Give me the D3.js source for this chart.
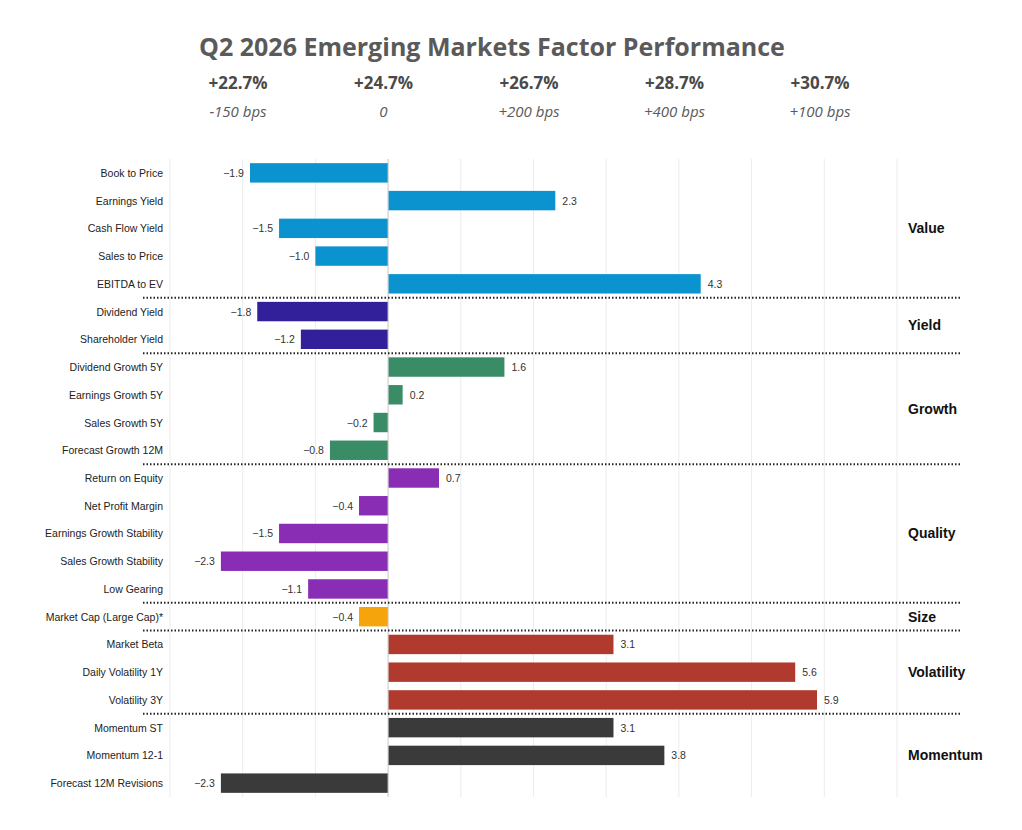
<!DOCTYPE html>
<html><head><meta charset="utf-8">
<script src="https://cdn.jsdelivr.net/npm/d3@7"></script>
<style>body{margin:0;background:#fff}</style>
</head><body><div id="chart"></div>
<script>
var factors = ["Book to Price","Earnings Yield","Cash Flow Yield","Sales to Price","EBITDA to EV",
  "Dividend Yield","Shareholder Yield",
  "Dividend Growth 5Y","Earnings Growth 5Y","Sales Growth 5Y","Forecast Growth 12M",
  "Return on Equity","Net Profit Margin","Earnings Growth Stability","Sales Growth Stability","Low Gearing",
  "Market Cap (Large Cap)*",
  "Market Beta","Daily Volatility 1Y","Volatility 3Y",
  "Momentum ST","Momentum 12-1","Forecast 12M Revisions"];
var values = [-1.9,2.3,-1.5,-1.0,4.3, -1.8,-1.2, 1.6,0.2,-0.2,-0.8, 0.7,-0.4,-1.5,-2.3,-1.1, -0.4, 3.1,5.6,5.9, 3.1,3.8,-2.3];
var groups = ["Value","Yield","Growth","Quality","Size","Volatility","Momentum"];
var groupSizes = [5,2,4,5,1,3,3];
var groupColors = ["#0a93cf","#32209b","#3a8c66","#8a2db5","#f5a40c","#b03a2e","#3a3a3a"];
var headline = ["+22.7%","+24.7%","+26.7%","+28.7%","+30.7%"];
var bps = ["-150 bps","0","+200 bps","+400 bps","+100 bps"];

var W = 1022, H = 830;
var svg = d3.select("#chart").append("svg").attr("width", W).attr("height", H);

svg.append("text").attr("x", 492).attr("y", 56).attr("text-anchor","middle")
  .attr("font-family","Open Sans").attr("font-weight","bold").attr("font-size",25)
  .attr("fill","#5a5a5a").text("Q2 2026 Emerging Markets Factor Performance");

var hx = d3.scalePoint().domain(d3.range(headline.length)).range([238, 820]);
headline.forEach(function(h,i){
  svg.append("text").attr("x", hx(i)).attr("y", 89).attr("text-anchor","middle")
    .attr("font-family","Open Sans").attr("font-weight","bold").attr("font-size",17)
    .attr("fill","#4a4a4a").text(h);
  svg.append("text").attr("x", hx(i)).attr("y", 117).attr("text-anchor","middle")
    .attr("font-family","Open Sans").attr("font-style","italic").attr("font-size",15)
    .attr("fill","#5a5a5a").text(bps[i]);
});

var x = d3.scaleLinear().domain([-3, 7]).range([170, 897]);
var y = d3.scaleBand().domain(factors).range([159, 797]).paddingInner(0.3).paddingOuter(0.15);

// colour per factor from groups
var colorOf = [], groupStart = [], s = 0;
groupSizes.forEach(function(n,g){ groupStart.push(s); for (var k=0;k<n;k++) colorOf.push(groupColors[g]); s += n; });

svg.append("g").selectAll("line").data(d3.range(-3, 8)).enter().append("line")
  .attr("x1", d=>x(d)).attr("x2", d=>x(d)).attr("y1", 159).attr("y2", 797)
  .attr("stroke","#ececec").attr("stroke-width",1);

svg.append("g").selectAll("rect").data(values).enter().append("rect")
  .attr("x", d=>x(Math.min(0,d))).attr("width", d=>Math.abs(x(d)-x(0)))
  .attr("y", (d,i)=>y(factors[i])).attr("height", y.bandwidth())
  .attr("fill", (d,i)=>colorOf[i]);

svg.append("line").attr("x1", x(0)).attr("x2", x(0)).attr("y1",159).attr("y2",797)
  .attr("stroke","#cfcfcf");

svg.append("g").selectAll("text").data(values).enter().append("text")
  .attr("x", d=> d<0 ? x(d)-6 : x(d)+7)
  .attr("y", (d,i)=>y(factors[i])+y.bandwidth()/2+4)
  .attr("text-anchor", d=> d<0 ? "end" : "start")
  .attr("font-family","Liberation Sans").attr("font-size",10.5).attr("fill","#333")
  .text(d=>d3.format(".1f")(d));

svg.append("g").selectAll("text").data(factors).enter().append("text")
  .attr("x", 163).attr("y", d=>y(d)+y.bandwidth()/2+4).attr("text-anchor","end")
  .attr("font-family","Liberation Sans").attr("font-size",10.5).attr("fill","#222")
  .text(d=>d);

var step = y.step();
groups.forEach(function(g,i){
  var first = factors[groupStart[i]], last = factors[groupStart[i]+groupSizes[i]-1];
  var cy = (y(first) + y(last) + y.bandwidth())/2;
  svg.append("text").attr("x", 908).attr("y", cy+5)
    .attr("font-family","Liberation Sans").attr("font-weight","bold").attr("font-size",14)
    .attr("fill","#111").text(g);
  if (i < groups.length-1) {
    var sy = y(last) + y.bandwidth() + (step - y.bandwidth())/2;
    svg.append("line").attr("x1",143).attr("x2",960).attr("y1",sy).attr("y2",sy)
      .attr("stroke","#222").attr("stroke-width",2).attr("stroke-dasharray","1.5,2");
  }
});
</script></body></html>
